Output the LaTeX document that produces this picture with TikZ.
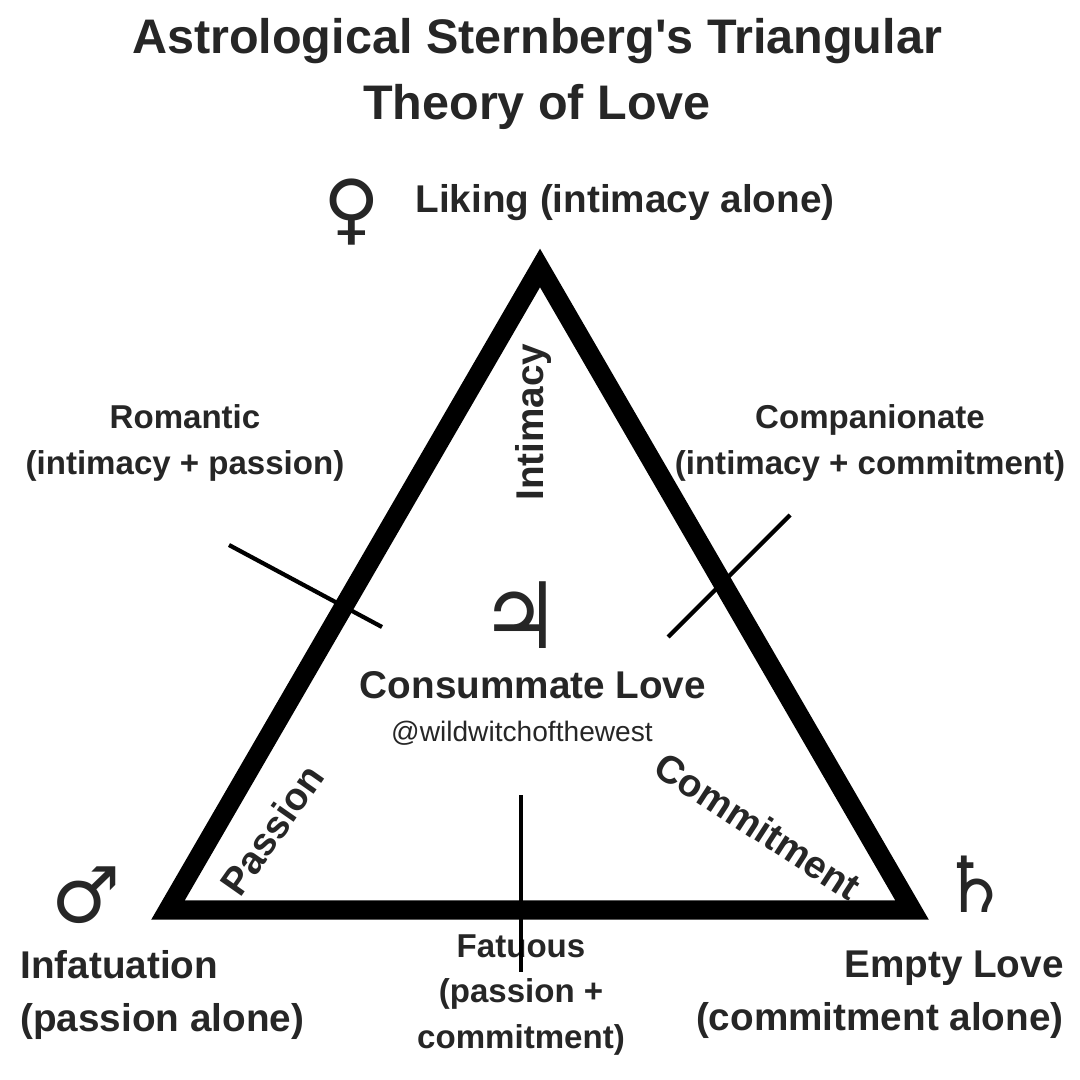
\documentclass[tikz,border=0pt]{standalone}
\usepackage{fontspec}
\setmainfont{Liberation Sans}
\newfontfamily\symfont{DejaVu Sans}
\begin{document}
\begin{tikzpicture}[
  x=0.01cm, y=-0.01cm,
  every node/.style={align=center, font=\bfseries, text=black!85},
  big/.style={font=\fontsize{13.8}{19}\selectfont\bfseries},
  mid/.style={font=\fontsize{11}{15}\selectfont\bfseries},
  small/.style={font=\fontsize{9.4}{13}\selectfont\bfseries},
  planet/.style={font=\symfont\fontsize{22}{22}\selectfont},
  tick/.style={line width=1.2pt}
]
\useasboundingbox (0,0) rectangle (1080,1080);

% title
\node (title) [big] at (537,74) {Astrological Sternberg\textquotesingle s Triangular\\ Theory of Love};

% triangle
\coordinate (top) at (540,268);
\coordinate (left) at (168,910);
\coordinate (right) at (912,910);
\draw[line width=5.5pt, line join=miter] (top) -- (right) -- (left) -- cycle;

% corners
\node (venus) [planet] at (352,212) {♀};
\node (liking) [mid, anchor=west] at (403,203) {Liking (intimacy alone)};
\node (mars) [planet] at (86,895) {♂};
\node (infat) [mid, align=left, anchor=west] at (8,995) {Infatuation\\(passion alone)};
\node (saturn) [planet] at (975,884) {♄};
\node (empty) [mid, align=right, anchor=east] at (1076,995) {Empty Love\\(commitment alone)};

% centre
\node (jupiter) [planet, font=\symfont\fontsize{26}{26}\selectfont] at (520,615) {♃};
\node (consum) [mid] at (533,685) {Consummate Love};
\node (handle) [font=\fontsize{8}{9}\selectfont] at (522,733) {@wildwitchofthewest};

% sides
\node (intimacy) [mid, rotate=90] at (533,422) {Intimacy};
\node (passion) [mid, rotate=55] at (272,830) {Passion};
\node (commit) [mid, rotate=-33] at (758,826) {Commitment};

% mixed types
\node (romantic) [small] at (185,443) {Romantic\\(intimacy + passion)};
\node (compan) [small] at (870,443) {Companionate\\(intimacy + commitment)};
\node (fatuous) [small] at (521,995) {Fatuous\\(passion +\\commitment)};
\draw[tick] (229,545) -- (382,627);
\draw[tick] (668,637) -- (790,515);
\draw[tick] (521,795) -- (521,972);
\end{tikzpicture}
\end{document}
